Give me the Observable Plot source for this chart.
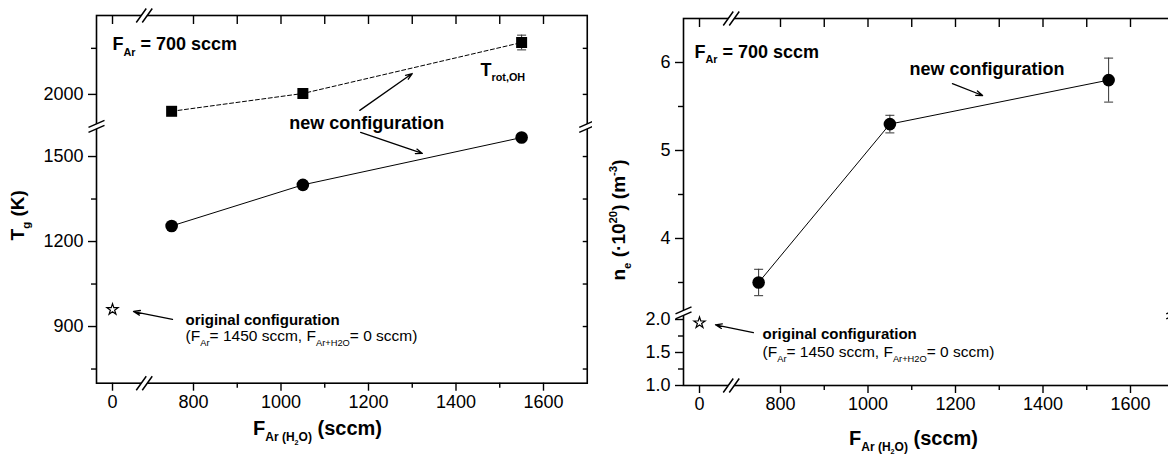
<!DOCTYPE html>
<html><head><meta charset="utf-8">
<script src="https://cdn.jsdelivr.net/npm/d3@7"></script>
<script src="https://cdn.jsdelivr.net/npm/@observablehq/plot@0.6"></script>
<style>
html,body{margin:0;padding:0;background:#fff;overflow:hidden;width:1168px;height:457px;}
#left{position:absolute;left:0;top:0;}
#right{position:absolute;left:592px;top:0;}
svg{max-width:none !important;}
</style></head><body>
<div id="left"></div><div id="right"></div>
<script>
// ---------------- data ----------------
const flowAr = [750, 1050, 1550];                 // F_Ar(H2O), sccm
const gasTemp = [1255, 1400, 1567];               // T_g (K), new configuration
const rotTempOH = [1945, 2003, 2169];             // T_rot,OH (K)
const rotTempOHErr = [0, 0, 24];
const origFlow = [0];                             // original configuration
const origGasTemp = [960];
const elecDensity = [3.5, 5.3, 5.8];              // n_e (1e20 m^-3)
const elecDensityErr = [0.15, 0.1, 0.25];
const origElecDensity = [1.95];

const xTicksMajor = [0, 800, 1000, 1200, 1400, 1600];
const xTicksMinor = [900, 1100, 1300, 1500];
const tgTicksMajor = [900, 1200, 1500, 2000];
const tgTicksMinor = [750, 1050, 1350, 2150];
const neTicksMajor = [1.0, 1.5, 2.0, 4, 5, 6];
const neTicksMinor = [1.25, 1.75, 3.5, 4.5, 5.5];

// broken-axis segments (data breakpoints -> continuous axis units)
const xBreakDomain = [-36.6, 70, 690, 1700];
const xBreakUnits  = [-36.6, 70, 75.11, 1085.11];
const tgBreakDomain = [700, 1600, 1902, 2257];
const tgBreakUnits  = [700, 1600, 1613.06, 1997.76];
const neBreakDomain = [1.0, 2.08, 3.17, 6.5];
const neBreakUnits  = [1.0, 2.08, 2.1209, 6.5609];
const xGap = 380, tgGap = 1750, neGap = 2.6;

const xBreak = d3.scaleLinear().domain(xBreakDomain).range(xBreakUnits);
const tgBreak = d3.scaleLinear().domain(tgBreakDomain).range(tgBreakUnits);
const neBreak = d3.scaleLinear().domain(neBreakDomain).range(neBreakUnits);

// ---------------- helpers ----------------
const FONT = "'Liberation Sans', Arial, Helvetica, sans-serif";
const W = 592, H = 457;
const capSym = {draw(c){c.moveTo(-4.5,0);c.lineTo(4.5,0);}};
const brkX = {draw(c){c.moveTo(-8,7);c.lineTo(2,-7);c.moveTo(-2,7);c.lineTo(8,-7);}};
const brkXGap = {draw(c){c.moveTo(-8,7);c.lineTo(2,-7);c.lineTo(8,-7);c.lineTo(-2,7);c.closePath();}};
const brkY = {draw(c){c.moveTo(-8,1);c.lineTo(8,-6);c.moveTo(-8,6);c.lineTo(8,-1);}};
const brkYGap = {draw(c){c.moveTo(-8,1);c.lineTo(8,-6);c.lineTo(8,-1);c.lineTo(-8,6);c.closePath();}};

function frameMarks(yMaj, yMin, yFmt, xLo, xHi, yLo, yHi, yGapVal) {
  const none = () => "";
  const xb = [{x: xGap, y: yLo}, {x: xGap, y: yHi}];
  const yb = [{x: xLo, y: yGapVal}, {x: xHi, y: yGapVal}];
  const allX = [...xTicksMajor, ...xTicksMinor];
  const allY = [...yMaj, ...yMin];
  return [
    Plot.frame({stroke: "black", strokeWidth: 1.6}),
    Plot.axisX(xTicksMajor, {anchor: "bottom", tickSize: 8, tickPadding: 4, tickFormat: d => String(d), label: null, stroke: "black", strokeWidth: 1.4, fontSize: 18}),
    Plot.axisX(xTicksMinor, {anchor: "bottom", tickSize: 5, tickFormat: none, label: null, stroke: "black", strokeWidth: 1.4}),
    Plot.axisY(yMaj, {anchor: "left", tickSize: 8, tickPadding: 5, tickFormat: yFmt, label: null, stroke: "black", strokeWidth: 1.4, fontSize: 18}),
    Plot.axisY(yMin, {anchor: "left", tickSize: 5, tickFormat: none, label: null, stroke: "black", strokeWidth: 1.4}),
    // mirrored inward ticks on top and right (shifted inside the frame)
    Plot.axisX(allX, {anchor: "top", tickSize: 8, dy: 8, tickFormat: none, label: null, stroke: "black", strokeWidth: 1.4}),
    Plot.axisY(allY, {anchor: "right", tickSize: 5, dx: -5, tickFormat: none, label: null, stroke: "black", strokeWidth: 1.4}),
    // axis break markers
    Plot.dot(xb, {x: "x", y: "y", symbol: brkXGap, fill: "white", stroke: "none"}),
    Plot.dot(xb, {x: "x", y: "y", symbol: brkX, fill: "none", stroke: "black", strokeWidth: 1.5}),
    Plot.dot(yb, {x: "x", y: "y", symbol: brkYGap, fill: "white", stroke: "none"}),
    Plot.dot(yb, {x: "x", y: "y", symbol: brkY, fill: "none", stroke: "black", strokeWidth: 1.5})
  ];
}

// rich text: _{sub} and ^{sup}
function parseRich(s, i, shift, scale, out, inBrace) {
  let buf = "";
  while (i < s.length) {
    const c = s[i];
    if ((c === "_" || c === "^") && s[i + 1] === "{") {
      if (buf) { out.push({t: buf, shift, scale}); buf = ""; }
      const ns = scale * 0.6;
      const nsh = shift + (c === "_" ? 0.3 : -0.45) * scale;
      i = parseRich(s, i + 2, nsh, ns, out, true);
    } else if (c === "}" && inBrace) {
      if (buf) out.push({t: buf, shift, scale});
      return i + 1;
    } else { buf += c; i++; }
  }
  if (buf) out.push({t: buf, shift, scale});
  return i;
}
function richify(svg) {
  svg.querySelectorAll("text").forEach(t => {
    if (t.querySelector("tspan")) return;
    const s = t.textContent;
    if (!/[_^]\{/.test(s)) return;
    const base = parseFloat(getComputedStyle(t).fontSize);
    const segs = [];
    parseRich(s, 0, 0, 1, segs, false);
    t.textContent = "";
    let cur = 0;
    for (const g of segs) {
      const ts = document.createElementNS("http://www.w3.org/2000/svg", "tspan");
      ts.textContent = g.t;
      ts.setAttribute("font-size", (base * g.scale).toFixed(2));
      const d = (g.shift - cur) * base;
      if (d) ts.setAttribute("dy", d.toFixed(2));
      cur = g.shift;
      t.appendChild(ts);
    }
  });
}

const txt = (s, x, y, size, weight) => Plot.text([s], {x: [x], y: [y], text: d => d, textAnchor: "start", fontSize: size, fontWeight: weight, fill: "black"});
const arr = (x1, y1, x2, y2) => Plot.arrow([0], {x1: [x1], y1: [y1], x2: [x2], y2: [y2], stroke: "black", strokeWidth: 1.3, headLength: 8, headAngle: 40});

// ---------------- left panel ----------------
const tgRows = flowAr.map((f, i) => ({f, v: gasTemp[i]}));
const ohRows = flowAr.map((f, i) => ({f, v: rotTempOH[i], e: rotTempOHErr[i]}));
const ohErr = ohRows.filter(d => d.e > 0);
const origTg = origFlow.map((f, i) => ({f, v: origGasTemp[i]}));

const L1 = 96;
const left = Plot.plot({
  width: W, height: H,
  marginLeft: L1, marginRight: W - (L1 + 490.75), marginTop: 15, marginBottom: H - 382.7,
  style: {fontFamily: FONT, fontSize: "18px", color: "black", background: "white"},
  x: {type: "linear", domain: [xBreakUnits[0], xBreakUnits[3]], transform: xBreak},
  y: {type: "linear", domain: [tgBreakUnits[0], tgBreakUnits[3]], transform: tgBreak},
  marks: [
    ...frameMarks(tgTicksMajor, tgTicksMinor, d => String(d), -36.6, 1700, 700, 2257, tgGap),
    Plot.line(ohRows, {x: "f", y: "v", stroke: "black", strokeWidth: 1, strokeDasharray: "4,2.5"}),
    Plot.line(tgRows, {x: "f", y: "v", stroke: "black", strokeWidth: 1}),
    Plot.ruleX(ohErr, {x: "f", y1: d => d.v - d.e, y2: d => d.v + d.e, stroke: "#333", strokeWidth: 1}),
    Plot.dot(ohErr, {x: "f", y: d => d.v - d.e, symbol: capSym, stroke: "#333", strokeWidth: 1}),
    Plot.dot(ohErr, {x: "f", y: d => d.v + d.e, symbol: capSym, stroke: "#333", strokeWidth: 1}),
    Plot.dot(ohRows, {x: "f", y: "v", symbol: "square", r: 6.2, fill: "black", stroke: "none"}),
    Plot.dot(tgRows, {x: "f", y: "v", r: 6.3, fill: "black", stroke: "none"}),
    Plot.dot(origTg, {x: "f", y: "v", symbol: "star", r: 3.5, fill: "white", stroke: "black", strokeWidth: 1.2}),
    arr(1180, 1948, 1300, 2068),
    arr(1182, 1585, 1323, 1511),
    arr(752, 925, 48, 953),
    txt("F_{Ar} = 700 sccm", 0, 2162, 18, "bold"),
    txt("T_{rot,OH}", 1456, 2080, 18, "bold"),
    txt("new configuration", 1019, 1905, 18, "bold"),
    txt("original configuration", 782, 924, 15, "bold"),
    txt("(F_{Ar}= 1450 sccm, F_{Ar+H2O}= 0 sccm)", 782, 865, 15.5, "normal"),
    Plot.text(["F_{Ar (H_{2}O)} (sccm)"], {frameAnchor: "bottom-left", dx: 221, dy: 52, textAnchor: "middle", fontSize: 20, fontWeight: "bold", fill: "black"}),
    Plot.text(["T_{g} (K)"], {frameAnchor: "left", rotate: -90, dx: -78.5, dy: 16, textAnchor: "middle", fontSize: 19, fontWeight: "bold", fill: "black"})
  ]
});

// ---------------- right panel ----------------
const neRows = flowAr.map((f, i) => ({f, v: elecDensity[i], e: elecDensityErr[i]}));
const origNe = origFlow.map((f, i) => ({f, v: origElecDensity[i]}));
const L2 = 91;
const right = Plot.plot({
  width: W, height: H,
  marginLeft: L2, marginRight: W - (L2 + 490.75), marginTop: 18, marginBottom: H - 385,
  style: {fontFamily: FONT, fontSize: "18px", color: "black", background: "white"},
  x: {type: "linear", domain: [xBreakUnits[0], xBreakUnits[3]], transform: xBreak},
  y: {type: "linear", domain: [neBreakUnits[0], neBreakUnits[3]], transform: neBreak},
  marks: [
    ...frameMarks(neTicksMajor, neTicksMinor, d => d < 3 ? d.toFixed(1) : String(d), -36.6, 1700, 1.0, 6.5, neGap),
    Plot.line(neRows, {x: "f", y: "v", stroke: "black", strokeWidth: 1}),
    Plot.ruleX(neRows, {x: "f", y1: d => d.v - d.e, y2: d => d.v + d.e, stroke: "#333", strokeWidth: 1}),
    Plot.dot(neRows, {x: "f", y: d => d.v - d.e, symbol: capSym, stroke: "#333", strokeWidth: 1}),
    Plot.dot(neRows, {x: "f", y: d => d.v + d.e, symbol: capSym, stroke: "#333", strokeWidth: 1}),
    Plot.dot(neRows, {x: "f", y: "v", r: 6.3, fill: "black", stroke: "none"}),
    Plot.dot(origNe, {x: "f", y: "v", symbol: "star", r: 3.5, fill: "white", stroke: "black", strokeWidth: 1.2}),
    arr(1193, 5.76, 1262, 5.625),
    arr(738, 1.80, 36.5, 1.92),
    txt("F_{Ar} = 700 sccm", -11.5, 6.12, 18, "bold"),
    txt("new configuration", 1095, 5.92, 18, "bold"),
    txt("original configuration", 759, 1.785, 15, "bold"),
    txt("(F_{Ar}= 1450 sccm, F_{Ar+H2O}= 0 sccm)", 759, 1.5, 15.5, "normal"),
    Plot.text(["F_{Ar (H_{2}O)} (sccm)"], {frameAnchor: "bottom-left", dx: 230, dy: 59, textAnchor: "middle", fontSize: 20, fontWeight: "bold", fill: "black"}),
    Plot.text(["n_{e} (·10^{20}) (m^{-3})"], {frameAnchor: "left", rotate: -90, dx: -64.5, dy: 18, textAnchor: "middle", fontSize: 19, fontWeight: "bold", fill: "black"})
  ]
});

document.getElementById("left").appendChild(left);
document.getElementById("right").appendChild(right);
richify(left);
richify(right);
</script>
</body></html>
